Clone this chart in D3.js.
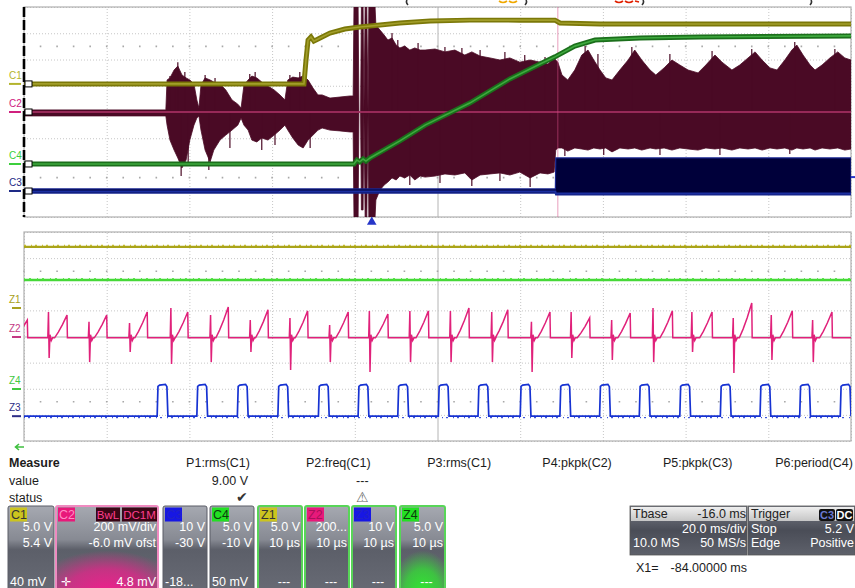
<!DOCTYPE html>
<html>
<head>
<meta charset="utf-8">
<script src="https://cdn.jsdelivr.net/npm/d3@7"></script>
<style>
  body { margin: 0; background: #fff; }
  svg { display: block; font-family: "Liberation Sans", Arial, sans-serif; }
</style>
</head>
<body>
<svg id="scope" width="855" height="588"></svg>
<script>
// ---------- data (time in ms / µs, levels in screen divisions) ----------
const topTimeTicks = [-116, -96, -76, -56, -36, -16, 4, 24, 44, 64, 84];   // 20 ms/div
const zoomTimeTicks = [0, 10, 20, 30, 40, 50, 60, 70, 80, 90, 100];        // 10 µs/div
const divTicks = [-4, -3, -2, -1, 0, 1, 2, 3, 4];

// C1 (olive)
const c1Time = [-116, -48.3, -47.8, -47.3, -46.6, -45.9, -44.4, -42.0, -38.4, -34.8, -29.9, -25.1, -17.8, -8.2, 3.9, 12.4, 13.6, 23.3, 47.5, 84];
const c1Div  = [1.07, 1.07, 1.98, 2.74, 2.86, 2.70, 2.82, 3.01, 3.16, 3.24, 3.31, 3.39, 3.47, 3.50, 3.50, 3.50, 3.39, 3.35, 3.35, 3.35];

// C2 (maroon) envelope
const c2Time = [-116, -81.7, -81.4, -80.7, -79.7, -78.8, -77.8, -76.8, -75.9, -74.9,
  -74.2, -73.7, -73.2, -72.2, -71.0, -70.1, -68.6, -67.2, -65.7, -64.3,
  -63.5, -62.8, -61.8, -60.9, -59.7, -58.5, -57.0, -55.5, -54.1, -52.9,
  -52.2, -51.0, -49.7, -48.5, -47.3, -46.1, -44.9, -43.9, -42.0, -39.6,
  -37.2, -36.4, -36.2, -35.2, -35.0, -34.6, -34.4, -34.0, -33.8, -33.5,
  -33.1, -32.8, -32.6, -31.1, -30.9, -29.9, -28.9, -28.0, -27.0, -26.0,
  -25.1, -23.9, -22.7, -21.5, -20.2, -19.0, -16.6, -14.2, -11.8, -9.4,
  -7.7, -5.7, -3.3, -0.9, 1.5, 3.9, 6.4, 8.8, 10.7, 12.2,
  12.6, 13.1, 14.1, 15.5, 17.2, 18.9, 20.4, 21.8, 23.3, 24.7,
  26.2, 28.1, 30.1, 31.7, 33.4, 35.4, 36.8, 38.8, 40.7, 42.6,
  44.6, 47.0, 48.9, 51.1, 52.8, 55.2, 57.1, 59.1, 60.8, 62.5,
  64.4, 66.1, 68.0, 69.7, 70.9, 72.4, 74.1, 75.3, 77.0, 78.9,
  80.8, 82.5, 84.0];
const c2Upper = [0.08, 0.08, 1.22, 1.30, 1.60, 1.75, 1.41, 1.30, 1.22, 1.07,
  0.46, 0.15, 1.03, 1.30, 1.22, 1.14, 1.07, 0.84, 0.46, 0.30,
  0.15, 1.03, 1.22, 1.37, 1.30, 1.14, 0.99, 0.84, 0.65, 0.46,
  1.22, 1.33, 1.30, 1.37, 1.22, 0.91, 0.65, 0.65, 0.53, 0.57,
  0.61, 0.61, 4.0, 4.0, 0, 0, 4.0, 4.0, 0, 4.0,
  4.0, 0, 4.0, 4.0, 3.31, 3.12, 2.93, 2.74, 2.82, 2.55,
  2.44, 2.51, 2.36, 2.44, 2.36, 2.36, 2.40, 2.29, 2.36, 2.17,
  2.29, 2.13, 2.06, 1.98, 2.06, 1.90, 1.98, 1.90, 1.83, 2.06,
  1.98, 1.90, 1.41, 1.22, 1.60, 2.17, 2.36, 1.98, 1.60, 1.30,
  1.22, 1.60, 1.98, 2.36, 1.98, 1.60, 1.41, 1.68, 1.98, 1.79,
  1.60, 1.49, 1.79, 2.17, 1.90, 1.60, 1.79, 2.06, 2.29, 1.98,
  1.68, 1.60, 1.98, 2.36, 2.55, 2.17, 1.79, 1.60, 1.79, 2.06,
  2.29, 2.06, 1.98];
const c2Lower = [-0.15, -0.15, -0.50, -1.07, -1.45, -1.75, -2.13, -1.83, -1.07, -0.50,
  -0.23, -0.15, -0.69, -1.45, -1.90, -1.45, -1.07, -0.88, -0.69, -0.50,
  -0.23, -0.50, -0.69, -1.07, -1.14, -0.99, -1.07, -0.88, -0.69, -0.50,
  -0.69, -0.99, -1.26, -1.37, -1.07, -0.88, -0.69, -0.61, -0.69, -0.72,
  -0.76, -0.76, -4.0, -4.0, 0, 0, -3.73, -3.73, 0, -4.0,
  -4.0, 0, -4.0, -4.0, -3.35, -2.97, -2.78, -2.67, -2.51, -2.59,
  -2.44, -2.51, -2.40, -2.59, -2.44, -2.48, -2.44, -2.36, -2.40, -2.32,
  -2.59, -2.40, -2.36, -2.32, -2.40, -2.29, -2.51, -2.32, -2.36, -2.29,
  -1.45, -1.37, -1.37, -1.49, -1.37, -1.41, -1.45, -1.37, -1.41, -1.37,
  -1.52, -1.37, -1.41, -1.37, -1.45, -1.37, -1.41, -1.37, -1.45, -1.37,
  -1.41, -1.45, -1.37, -1.41, -1.37, -1.45, -1.37, -1.41, -1.37, -1.45,
  -1.37, -1.41, -1.37, -1.45, -1.37, -1.41, -1.37, -1.45, -1.37, -1.41,
  -1.37, -1.45, -1.41];
// single glitches sticking out of the C2 envelope
const c2HairTime = [-78.8, -78.0, -71.3, -49.3, -27.0, -25.6, -20.7, -14.2, -10.1, -5.7, 0.3, 5.1, 10.0,
  19.7, 22.8, 31.0, 40.2, 50.4, 60.0, 70.4, 80.1, -22.7, -15.4, -7.7, -0.9, 6.4, 14.8, 24.2, 37.8, 52.3, 69.2,
  -80.7, -79.5, -77.1, -72.2, -69.8, -61.4, -60.1, -51.7, -48.1, -76.3, -66.2, -58.5, -55.3, -46.8];
const c2HairTip = [1.90, -2.44, -2.21, 1.52, 3.01, 2.74, 2.63, 2.48, 2.44, 2.36, 2.29, 2.17, 2.10,
  2.51, 2.21, 2.48, 2.21, 2.32, 2.40, 2.67, 2.40, -2.78, -2.70, -2.82, -2.63, -2.86, -1.68, -1.64, -1.64, -1.64, -1.60,
  1.37, 1.60, 1.52, 1.41, 1.30, 1.45, 1.52, 1.41, 1.45, -2.02, -1.37, -1.45, -1.26, -1.37];

// C4 (green)
const c4Time = [-116, -36.2, -35.5, -34.8, -34.0, -33.3, -32.3, -25.1, -19.0, -8.2, 1.5, 8.8, 12.4, 17.2, 22.1, 33.0, 47.5, 84];
const c4Div  = [-1.98, -1.98, -1.83, -1.90, -1.79, -1.87, -1.75, -1.10, -0.50, 0.34, 1.26, 1.83, 2.10, 2.51, 2.74, 2.82, 2.86, 2.90];

// C3 (navy)
const c3Time  = [-116, 12.5, 12.6, 84];
const c3Upper = [-2.93, -2.93, -1.75, -1.75];
const c3Lower = [-3.09, -3.09, -3.16, -3.16];

const triggerTime = -31.9, triggerLevel = -2.48, cursorTime = 13.1;

// zoom traces (µs)
const z1Div = 3.43, z4Div = 2.16, z2Base = -0.05, z3Low = -3.05, z3High = -1.86;
const z2PeakTime  = [0.4, 5.2, 10.0, 14.9, 19.8, 24.7, 29.5, 34.3, 39.2, 44.0, 48.9, 53.8, 58.5, 63.6, 68.4, 73.3, 78.4, 83.2, 88.0, 92.9, 97.7];
const z2PeakDiv   = [0.63, 0.82, 0.82, 0.94, 0.94, 1.13, 1.02, 0.98, 0.94, 0.86, 0.98, 1.09, 1.02, 0.94, 0.71, 0.90, 0.98, 0.94, 1.28, 0.98, 0.94];
const z2SpikeTime = [-1.8, 3.0, 7.9, 12.8, 17.8, 22.6, 27.4, 32.2, 37.0, 41.8, 46.7, 51.6, 56.6, 61.4, 66.2, 71.1, 76.1, 80.8, 85.8, 90.4, 95.4];
const z2SpikeUp   = [0.6, 0.94, 0.56, 0.52, 1.09, 0.82, 0.63, 0.71, 0.44, 0.98, 0.98, 0.98, 0.94, 0.56, 0.94, 0.63, 1.09, 0.94, 0.71, 0.82, 0.63];
const z2SpikeDown = [-0.9, -0.82, -0.98, -0.59, -1.05, -0.98, -0.59, -1.28, -0.98, -1.36, -0.98, -0.98, -0.98, -1.36, -0.82, -0.90, -0.98, -0.59, -1.40, -0.90, -0.98];
const z3RiseTime  = [16.1, 20.9, 25.8, 30.7, 35.6, 40.4, 45.2, 50.1, 54.9, 60.0, 64.8, 69.6, 74.4, 79.3, 84.2, 89.0, 93.8, 98.7];
const z3Width = 1.3;

// labels
const topLabels = ["C1", "C2", "C4", "C3"];
const topLabelDiv = [1.07, 0, -1.98, -3.01];
const zoomLabels = ["Z1", "Z2", "Z4", "Z3"];
const zoomLabelDiv = [1.09, -0.02, -2.01, -3.05];

const measRows = ["Measure", "value", "status"];
const measNames = ["P1:rms(C1)", "P2:freq(C1)", "P3:rms(C1)", "P4:pkpk(C2)", "P5:pkpk(C3)", "P6:period(C4)"];
const measValues = ["9.00 V", "---", "", "", "", ""];
const measStatus = ["\u2714", "\u26A0", "", "", "", ""];

const boxNames = ["C1", "C2", "C3", "C4", "Z1", "Z2", "Z3", "Z4"];
const boxLine1 = ["5.0 V", "200 mV/div", "10 V", "5.0 V", "5.0 V", "200...", "10 V", "5.0 V"];
const boxLine2 = ["5.4 V", "-6.0 mV ofst", "-30 V", "-10 V", "10 µs", "10 µs", "10 µs", "10 µs"];
const boxFoot  = ["40 mV", "4.8 mV", "-18...", "50 mV", "---", "---", "---", "---"];

const tbaseRows = [["Tbase", "-16.0 ms"], ["", "20.0 ms/div"], ["10.0 MS", "50 MS/s"]];
const trigRows  = [["Trigger", ""], ["Stop", "5.2 V"], ["Edge", "Positive"]];
const cursorReadout = ["X1=", "-84.00000 ms"];

// ---------- layout / style ----------
const svg = d3.select("#scope");
const topBox = {l: 24, r: 851, t: 7, b: 217};
const botBox = {l: 24, r: 851, t: 232, b: 441};

const xTop = d3.scaleLinear().domain([-116, 84]).range([topBox.l, topBox.r]);
const yTop = d3.scaleLinear().domain([-4, 4]).range([topBox.b, topBox.t]);
const xZoom = d3.scaleLinear().domain([0, 100]).range([botBox.l, botBox.r]);
const yZoom = d3.scaleLinear().domain([-4, 4]).range([botBox.b, botBox.t]);

const defs = svg.append("defs");
[["clipTop", topBox], ["clipBot", botBox]].forEach(([id, b]) => {
  defs.append("clipPath").attr("id", id).append("rect")
    .attr("x", b.l).attr("y", b.t).attr("width", b.r - b.l).attr("height", b.b - b.t);
});
function linGrad(id, stops) {
  const g = defs.append("linearGradient").attr("id", id).attr("x1", 0).attr("y1", 0).attr("x2", 0).attr("y2", 1);
  stops.forEach(s => g.append("stop").attr("offset", s[0]).attr("stop-color", s[1]));
}
linGrad("boxFill", [[0, "#a6a9b1"], [0.4, "#878a93"], [0.52, "#5c5f69"], [1, "#676a74"]]);
linGrad("panelDark", [[0, "#7a7d87"], [0.5, "#4a4d57"], [1, "#5e616b"]]);
linGrad("panelLight", [[0, "#eeeeee"], [1, "#c6c6c6"]]);
function radGrad(id, col) {
  const g = defs.append("radialGradient").attr("id", id).attr("cx", 0.5).attr("cy", 1.05).attr("r", 0.75);
  g.append("stop").attr("offset", 0).attr("stop-color", col).attr("stop-opacity", 1);
  g.append("stop").attr("offset", 0.55).attr("stop-color", col).attr("stop-opacity", 0.7);
  g.append("stop").attr("offset", 1).attr("stop-color", col).attr("stop-opacity", 0);
}
radGrad("pinkGlow", "#ee1f8c");
radGrad("greenGlow", "#2fe82f");

// ---------- grids ----------
function drawGrid(x, y, box, xTicks, xCenter) {
  const g = svg.append("g");
  g.append("g").attr("transform", `translate(0,${box.b})`)
    .call(d3.axisBottom(x).tickValues(xTicks).tickSize(-(box.b - box.t)).tickFormat(""))
    .call(a => a.select(".domain").remove())
    .call(a => a.selectAll(".tick line")
      .attr("stroke", d => d === xCenter ? "#b4b4b4" : "#c6c6c6")
      .attr("stroke-dasharray", d => d === xCenter ? null : "1,2"));
  g.append("g").attr("transform", `translate(${box.l},0)`)
    .call(d3.axisLeft(y).tickValues(divTicks).tickSize(-(box.r - box.l)).tickFormat(""))
    .call(a => a.select(".domain").remove())
    .call(a => a.selectAll(".tick line")
      .attr("stroke", d => d === 0 ? "#b4b4b4" : "#c6c6c6")
      .attr("stroke-dasharray", d => d === 0 ? null : "1,2"));
  // minor tick dots at ±2.5 div
  const step = (box.r - box.l) / 50;
  g.selectAll("line.minor").data([2.5, -2.5]).join("line").attr("class", "minor")
    .attr("x1", box.l - 0.8).attr("x2", box.r).attr("y1", d => y(d)).attr("y2", d => y(d))
    .attr("stroke", "#a8a8a8").attr("stroke-width", 1.6).attr("stroke-dasharray", `1.6,${step - 1.6}`);
  g.append("rect").attr("x", box.l).attr("y", box.t).attr("width", box.r - box.l).attr("height", box.b - box.t)
    .attr("fill", "none").attr("stroke", "#b0b0b0").attr("stroke-width", 1.2);
}
drawGrid(xTop, yTop, topBox, topTimeTicks, -16);
drawGrid(xZoom, yZoom, botBox, zoomTimeTicks, 50);

// ---------- top panel traces ----------
const gTop = svg.append("g").attr("clip-path", "url(#clipTop)");

const c2Idx = d3.range(c2Time.length);
gTop.append("path").datum(c2Idx)
  .attr("d", d3.area().x(i => xTop(c2Time[i])).y0(i => yTop(c2Lower[i])).y1(i => yTop(c2Upper[i])))
  .attr("fill", "#4a0a25").attr("stroke", "#4a0a25").attr("stroke-width", 0.8);
gTop.selectAll("line.hair").data(d3.range(c2HairTime.length)).join("line").attr("class", "hair")
  .attr("x1", i => xTop(c2HairTime[i])).attr("x2", i => xTop(c2HairTime[i]))
  .attr("y1", yTop(0)).attr("y2", i => yTop(c2HairTip[i]))
  .attr("stroke", "#4a0a25").attr("stroke-width", 1.2);
gTop.append("line").attr("x1", xTop(-116)).attr("x2", xTop(84)).attr("y1", yTop(0)).attr("y2", yTop(0))
  .attr("stroke", "#b2346a").attr("stroke-width", 1.4);
gTop.append("line").attr("x1", xTop(cursorTime)).attr("x2", xTop(cursorTime)).attr("y1", topBox.t).attr("y2", topBox.b)
  .attr("stroke", "#d8508a").attr("stroke-width", 1).attr("opacity", 0.55);

const lineTop = (t, v) => d3.line().x(i => xTop(t[i])).y(i => yTop(v[i]))(d3.range(t.length));

// C3
gTop.append("path").datum(d3.range(c3Time.length))
  .attr("d", d3.area().x(i => xTop(c3Time[i])).y0(i => yTop(c3Lower[i])).y1(i => yTop(c3Upper[i])))
  .attr("fill", "#00003a").attr("stroke", "#17258e").attr("stroke-width", 1.2);
gTop.append("path").attr("d", lineTop(c3Time, c3Lower.map(v => v + 0.06)))
  .attr("fill", "none").attr("stroke", "#1b2ea0").attr("stroke-width", 2);

// C1
gTop.append("path").attr("d", lineTop(c1Time, c1Div)).attr("fill", "none").attr("stroke", "#7b7808").attr("stroke-width", 5);
gTop.append("path").attr("d", lineTop(c1Time, c1Div)).attr("fill", "none").attr("stroke", "#a29e2a").attr("stroke-width", 1.6);

// C4
gTop.append("path").attr("d", lineTop(c4Time, c4Div)).attr("fill", "none").attr("stroke", "#1b6f1b").attr("stroke-width", 5);
gTop.append("path").attr("d", lineTop(c4Time, c4Div)).attr("fill", "none").attr("stroke", "#3faa3f").attr("stroke-width", 1.6);

// left border of top panel (dashed black) and channel connectors
svg.append("line").attr("x1", topBox.l).attr("x2", topBox.l).attr("y1", topBox.t).attr("y2", topBox.b)
  .attr("stroke", "#000").attr("stroke-width", 2.6).attr("stroke-dasharray", "10,3");
const topColors = ["#b4b42c", "#d0207e", "#3ccf3c", "#1e2a86"];
topLabels.forEach((name, i) => {
  const y = yTop(topLabelDiv[i]);
  svg.append("text").attr("x", 9).attr("y", y - 5).attr("font-size", 10).attr("fill", topColors[i]).text(name);
  svg.append("line").attr("x1", 9).attr("x2", 21).attr("y1", y).attr("y2", y).attr("stroke", topColors[i]).attr("stroke-width", 2);
  svg.append("rect").attr("x", 25).attr("y", y - 3).attr("width", 7).attr("height", 6)
    .attr("fill", "#fff").attr("stroke", "#000").attr("stroke-width", 1);
});
// trigger markers
svg.append("path").attr("d", d3.symbol(d3.symbolTriangle, 40)())
  .attr("transform", `translate(${xTop(triggerTime)},${topBox.b + 5})`).attr("fill", "#2636c8");
svg.append("line").attr("x1", topBox.r).attr("x2", 855).attr("y1", yTop(triggerLevel)).attr("y2", yTop(triggerLevel))
  .attr("stroke", "#2636c8").attr("stroke-width", 2);

// fragments of the header line that is cropped off above the screen
[["M407,0 Q405.5,2.5 408,5", "#333"], ["M526,0 Q527.5,2.5 525,5", "#333"], ["M643,0 Q644.5,2.5 642,5", "#333"],
 ["M811,0 Q812.5,2.5 810,5", "#333"], ["M499,1 Q503,4 507,1 M509,1 Q513,4 517,1", "#f0a800"],
 ["M615,1 Q619,4 623,1 M625,1 Q629,4 633,1 M635,1 L639,2", "#e02000"]]
  .forEach(([d, c]) => svg.append("path").attr("d", d).attr("fill", "none").attr("stroke", c).attr("stroke-width", 1.6));

// ---------- zoom panel traces ----------
const gBot = svg.append("g").attr("clip-path", "url(#clipBot)");
const lineZoom = d3.line().x(d => xZoom(d[0])).y(d => yZoom(d[1]));

gBot.append("path").attr("d", lineZoom([[0, z1Div], [100, z1Div]])).attr("stroke", "#aaa41a").attr("stroke-width", 2.4).attr("fill", "none");
gBot.append("path").attr("d", lineZoom([[0, z1Div], [100, z1Div]])).attr("stroke", "#c4bc30").attr("stroke-width", 1.2)
  .attr("stroke-dasharray", "2,5,1,3").attr("transform", "translate(0,-1.5)").attr("fill", "none");
gBot.append("path").attr("d", lineZoom([[0, z4Div], [100, z4Div]])).attr("stroke", "#46d838").attr("stroke-width", 2.4).attr("fill", "none");
gBot.append("path").attr("d", lineZoom([[0, z4Div], [100, z4Div]])).attr("stroke", "#5ae84a").attr("stroke-width", 1.2)
  .attr("stroke-dasharray", "1,4,2,6").attr("transform", "translate(0,-1.5)").attr("fill", "none");

// Z2: spike + ramp per switching cycle
const z2Pts = [];
z2PeakTime.forEach((p, i) => {
  const s = z2SpikeTime[i], h = z2PeakDiv[i] - z2Base;
  z2Pts.push([s - 0.12, z2Base], [s - 0.04, z2SpikeUp[i]], [s + 0.04, z2SpikeDown[i]], [s + 0.14, z2Base + 0.12],
    [s + 0.3, z2Base - 0.1], [s + 0.45, z2Base],
    [p - 1.5, z2Base], [p - 1.05, z2Base + 0.25 * h], [p - 0.55, z2Base + 0.58 * h], [p, z2PeakDiv[i]], [p + 0.05, z2Base]);
});
z2Pts.push([100, z2Base]);
gBot.append("path").attr("d", lineZoom(z2Pts)).attr("stroke", "#e0217a").attr("stroke-width", 1.5).attr("fill", "none");

// Z3: gate pulses
const z3Pts = [[0, z3Low]];
z3RiseTime.forEach(r => {
  z3Pts.push([r, z3Low], [r + 0.1, z3High - 0.05], [r + 0.3, z3High], [r + 1.0, z3High + 0.03],
    [r + 1.18, z3High - 0.06], [r + z3Width, z3Low]);
});
z3Pts.push([100, z3Low]);
gBot.append("path").attr("d", lineZoom(z3Pts)).attr("stroke", "#1632d2").attr("stroke-width", 1.7).attr("fill", "none");
gBot.append("path").attr("d", lineZoom([[0, z3Low], [100, z3Low]])).attr("stroke", "#1632d2").attr("stroke-width", 1)
  .attr("stroke-dasharray", "1,3,2,5").attr("transform", "translate(0,1.5)").attr("fill", "none");

const zoomColors = ["#a8a020", "#c43a84", "#40c840", "#2c2c86"];
zoomLabels.forEach((name, i) => {
  const y = yZoom(zoomLabelDiv[i]);
  svg.append("text").attr("x", 9).attr("y", y - 5).attr("font-size", 10).attr("fill", zoomColors[i]).text(name);
  svg.append("line").attr("x1", 12).attr("x2", 21).attr("y1", y).attr("y2", y).attr("stroke", zoomColors[i]).attr("stroke-width", 2);
});
svg.append("path").attr("d", "M24,447 L16,447 M19,444 L15.5,447 L19,450").attr("stroke", "#40c040").attr("stroke-width", 1.6).attr("fill", "none");

// ---------- measurement table ----------
const txt = "#1c1c1c";
measRows.forEach((r, i) => svg.append("text").attr("x", 9).attr("y", 467 + i * 17.5)
  .attr("font-size", 12.5).attr("font-weight", i === 0 ? "bold" : null).attr("fill", txt).text(r));
const colX = d3.scaleLinear().domain([0, 5]).range([250, 853]);
measNames.forEach((m, i) => {
  svg.append("text").attr("x", colX(i)).attr("y", 467).attr("text-anchor", "end").attr("font-size", 12.5).attr("fill", txt).text(m);
  svg.append("text").attr("x", colX(i) - 2).attr("y", 485).attr("text-anchor", "end").attr("font-size", 12.5).attr("fill", txt).text(measValues[i]);
  svg.append("text").attr("x", colX(i) - 2).attr("y", 502).attr("text-anchor", "end").attr("font-size", 14)
    .attr("fill", i === 1 ? "#666" : "#333").text(measStatus[i]);
});

// ---------- channel descriptor boxes ----------
const boxX = [8, 56, 163, 210, 258, 305, 352, 400];
const boxW = [46, 102, 44, 44, 44, 44, 44, 45];
const tagBg = ["#cbc41f", "#e8197a", "#1717e4", "#23e023", "#cbc41f", "#e8197a", "#1717e4", "#23e023"];
const tagFg = ["#333", "#ff8cc4", "#2222c8", "#0d3d0d", "#333", "#a8105a", "#2222c8", "#0d3d0d"];
const boxTop = 506, boxH = 84;
boxNames.forEach((n, i) => {
  const x = boxX[i], w = boxW[i], g = svg.append("g");
  const border = i >= 4 ? "#58d558" : (i === 1 ? "#ef8ac0" : "#5a5d66");
  g.append("rect").attr("x", x).attr("y", boxTop).attr("width", w).attr("height", boxH).attr("rx", 2)
    .attr("fill", "url(#boxFill)").attr("stroke", border).attr("stroke-width", i >= 4 || i === 1 ? 2 : 1);
  if (i === 1) g.append("rect").attr("x", x + 1).attr("y", boxTop + 28).attr("width", w - 2).attr("height", boxH - 29).attr("fill", "url(#pinkGlow)");
  if (i === 7) g.append("rect").attr("x", x + 1).attr("y", boxTop + 28).attr("width", w - 2).attr("height", boxH - 29).attr("fill", "url(#greenGlow)");
  g.append("rect").attr("x", x + 2).attr("y", boxTop + 1.5).attr("width", 17).attr("height", 14).attr("fill", tagBg[i]);
  g.append("text").attr("x", x + 3).attr("y", boxTop + 13).attr("font-size", 12.5).attr("fill", tagFg[i]).text(n);
  const right = x + w - 2;
  g.append("text").attr("x", right).attr("y", 531).attr("text-anchor", "end").attr("font-size", 12.5).attr("fill", "#fff").text(boxLine1[i]);
  g.append("text").attr("x", right).attr("y", 547).attr("text-anchor", "end").attr("font-size", 12.5).attr("fill", "#fff").text(boxLine2[i]);
  if (i === 1) {
    g.append("text").attr("x", x + 5).attr("y", 586).attr("font-size", 12).attr("fill", "#fff").text("\u271B");
    g.append("text").attr("x", right).attr("y", 586).attr("text-anchor", "end").attr("font-size", 12.5).attr("fill", "#fff").text(boxFoot[i]);
  } else if (i >= 4) {
    g.append("text").attr("x", x + w / 2 + 4).attr("y", 586).attr("text-anchor", "middle").attr("font-size", 12.5).attr("fill", "#fff").text(boxFoot[i]);
  } else {
    g.append("text").attr("x", x + 2).attr("y", 586).attr("font-size", 12.5).attr("fill", "#fff").text(boxFoot[i]);
  }
});
// BwL / DC1M tags
[["BwL", 96, 24], ["DC1M", 122, 35]].forEach(([s, x, w]) => {
  svg.append("rect").attr("x", x).attr("y", boxTop + 1.5).attr("width", w).attr("height", 14).attr("fill", "#3a0616");
  svg.append("text").attr("x", x + w / 2).attr("y", boxTop + 13).attr("text-anchor", "middle").attr("font-size", 11.5).attr("fill", "#ff3f8e").text(s);
});

// ---------- timebase / trigger ----------
function infoBox(x, w, rows) {
  const g = svg.append("g");
  g.append("rect").attr("x", x).attr("y", boxTop).attr("width", w).attr("height", 49).attr("fill", "url(#panelDark)").attr("stroke", "#555").attr("stroke-width", 0.8);
  g.append("rect").attr("x", x + 1).attr("y", boxTop + 1).attr("width", w - 2).attr("height", 14).attr("fill", "url(#panelLight)");
  rows.forEach((r, k) => {
    const y = 518 + k * 14.5;
    const col = k === 0 ? "#222" : "#fff";
    g.append("text").attr("x", x + 3).attr("y", y).attr("font-size", 12.5).attr("fill", col).text(r[0]);
    g.append("text").attr("x", x + w - 1).attr("y", y).attr("text-anchor", "end").attr("font-size", 12.5).attr("fill", col).text(r[1]);
  });
}
infoBox(630, 117, tbaseRows);
infoBox(748, 107, trigRows);
[["C3", 819, 16, "#6a78d0"], ["DC", 836, 17, "#fff"]].forEach(([s, x, w, c]) => {
  svg.append("rect").attr("x", x).attr("y", boxTop + 3).attr("width", w).attr("height", 12).attr("rx", 2).attr("fill", "#111");
  svg.append("text").attr("x", x + w / 2).attr("y", boxTop + 13).attr("text-anchor", "middle").attr("font-size", 11).attr("font-weight", "bold").attr("fill", c).text(s);
});
svg.append("text").attr("x", 636).attr("y", 572).attr("font-size", 12.5).attr("fill", txt).text(cursorReadout[0]);
svg.append("text").attr("x", 747).attr("y", 572).attr("text-anchor", "end").attr("font-size", 12.5).attr("fill", txt).text(cursorReadout[1]);
</script>
</body>
</html>
